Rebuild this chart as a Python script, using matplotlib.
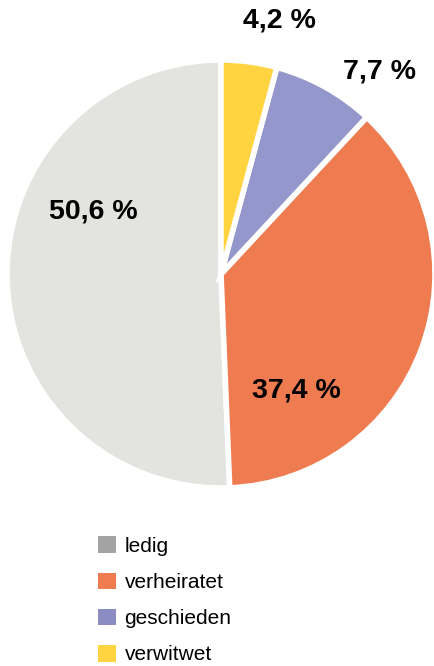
import matplotlib.pyplot as plt
from matplotlib.patches import Patch

plt.rcParams['font.family'] = ['Liberation Sans', 'DejaVu Sans']

categories = ['ledig', 'verheiratet', 'geschieden', 'verwitwet']
values = [50.6, 37.4, 7.7, 4.2]
labels = ['50,6 %', '37,4 %', '7,7 %', '4,2 %']
pie_colors = ['#e3e3df', '#ef7b50', '#9497cb', '#ffd440']
legend_colors = ['#a3a3a3', '#ef7b50', '#8a8cc2', '#ffd440']
# label positions in units of pie radius
label_pos = [(-0.596, 0.291), (0.352, -0.545), (0.742, 0.948), (0.272, 1.183)]

W, H = 435, 666
fig = plt.figure(figsize=(W / 100, H / 100), dpi=100)

cx, cy, r = 221, 274, 214
ax = fig.add_axes([(cx - r) / W, (H - cy - r) / H, 2 * r / W, 2 * r / H])
ax.pie(values, colors=pie_colors, startangle=90, counterclock=True, radius=1,
       wedgeprops=dict(edgecolor='white', linewidth=4))
ax.set_xlim(-1, 1)
ax.set_ylim(-1, 1)
ax.set_aspect('equal')
ax.axis('off')

for lab, (x, y) in zip(labels, label_pos):
    ax.text(x, y, lab, ha='center', va='center', fontsize=20.5, fontweight='bold')

handles = [Patch(facecolor=c, edgecolor='none') for c in legend_colors]
fig.legend(handles, categories, loc='upper left', bbox_to_anchor=(88 / W, 1 - 526 / H),
           frameon=False, fontsize=15, handlelength=0.85, handleheight=0.85,
           handletextpad=0.4, labelspacing=0.8, borderpad=0)

fig.savefig('out.png', dpi=100)
